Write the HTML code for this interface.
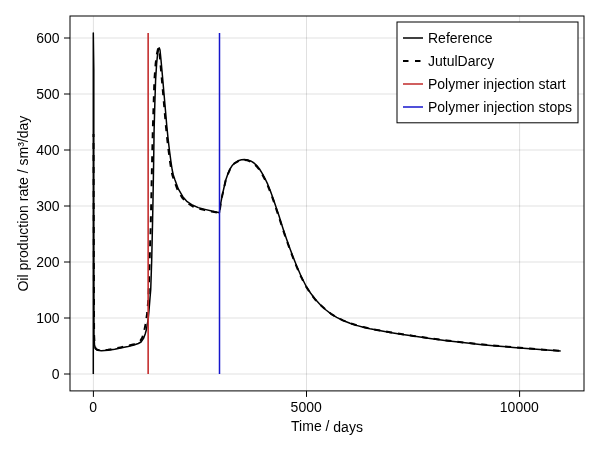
<!DOCTYPE html>
<html lang="en"><head><meta charset="utf-8"><title>Oil production rate</title>
<style>html,body{margin:0;padding:0;background:#fff}svg{display:block}text{font-family:'Liberation Sans','DejaVu Sans',sans-serif;font-size:14px;fill:#000}</style></head><body>
<svg width="600" height="450" viewBox="0 0 600 450">
<rect width="600" height="450" fill="#fff"/>
<g stroke="#000" stroke-opacity="0.12" stroke-width="1" fill="none">
<line x1="93.40" y1="16.0" x2="93.40" y2="390.9"/>
<line x1="306.50" y1="16.0" x2="306.50" y2="390.9"/>
<line x1="519.60" y1="16.0" x2="519.60" y2="390.9"/>
<line x1="70.0" y1="374.00" x2="584.0" y2="374.00"/>
<line x1="70.0" y1="318.00" x2="584.0" y2="318.00"/>
<line x1="70.0" y1="262.00" x2="584.0" y2="262.00"/>
<line x1="70.0" y1="206.00" x2="584.0" y2="206.00"/>
<line x1="70.0" y1="150.00" x2="584.0" y2="150.00"/>
<line x1="70.0" y1="94.00" x2="584.0" y2="94.00"/>
<line x1="70.0" y1="38.00" x2="584.0" y2="38.00"/>
</g>
<path d="M93.3,374.0 L93.3,33.0 L93.8,70.0 L93.8,200.0 L94.0,335.0 L94.5,345.0 L95.6,349.0 L97.5,350.3 L101.3,350.7 L108.0,350.2 L114.7,349.3 L120.5,348.0 L128.0,346.5 L134.0,345.0 L138.3,343.5 L141.0,342.0 L143.7,338.0 L145.2,334.0 L146.3,330.0 L147.4,324.0 L148.3,318.0 L149.2,308.0 L150.0,298.0 L150.7,290.0 L151.7,260.0 L152.6,220.0 L153.0,200.0 L153.6,165.0 L154.1,130.0 L154.8,105.0 L155.6,80.0 L156.6,64.0 L157.6,54.0 L158.5,49.0 L159.2,47.8 L160.0,50.0 L161.0,60.0 L162.0,71.0 L162.8,80.0 L164.2,96.0 L165.6,112.0 L166.7,125.0 L168.0,138.0 L169.4,150.0 L171.0,162.0 L172.2,170.0 L173.3,175.0 L175.0,180.0 L178.3,188.9 L182.8,196.7 L187.2,201.7 L192.8,205.3 L198.3,207.6 L205.0,209.4 L211.7,211.1 L219.4,212.8 L220.6,204.0 L222.2,195.6 L223.9,188.0 L225.6,180.5 L228.0,173.5 L230.0,169.0 L232.0,165.8 L234.4,163.2 L238.9,160.5 L241.5,159.8 L244.4,159.6 L247.5,159.9 L251.1,161.2 L254.0,163.0 L256.7,165.6 L259.5,169.0 L262.2,173.3 L265.0,178.5 L267.8,184.4 L270.5,191.3 L273.3,198.9 L276.0,207.0 L278.9,215.6 L283.3,229.5 L286.7,239.5 L290.0,248.7 L293.3,257.5 L296.7,266.0 L301.0,276.0 L306.0,286.0 L310.5,293.0 L315.3,299.3 L320.5,305.0 L326.0,310.0 L331.0,313.8 L336.7,317.3 L343.0,320.5 L350.0,323.3 L356.5,325.4 L363.3,327.3 L370.0,328.8 L376.7,330.1 L390.0,332.4 L401.0,334.2 L413.3,336.1 L430.0,338.5 L446.7,340.7 L463.0,342.6 L480.0,344.4 L496.0,345.9 L513.3,347.4 L530.0,348.7 L546.7,350.0 L560.7,351.0" fill="none" stroke="#000" stroke-width="1.5" stroke-linejoin="round"/>
<path d="M93.5,134.0 L93.8,250.0 L94.1,335.0 L94.6,344.5 L95.6,348.5 L97.5,349.8 L101.3,350.2 L108.0,349.7 L114.7,348.7 L120.5,347.4 L128.0,345.8 L134.0,344.2 L138.3,342.3 L140.5,340.5 L142.3,337.5 L144.0,332.0 L145.6,324.0 L147.2,313.0 L148.5,298.0 L149.6,262.0 L150.6,230.0 L151.3,200.0 L152.0,165.0 L152.8,130.0 L153.6,105.0 L154.4,80.0 L155.6,64.0 L156.9,54.0 L158.0,49.0 L158.9,48.2 L159.4,51.0 L160.1,60.0 L161.1,71.0 L161.9,80.0 L163.3,96.0 L164.7,112.0 L165.8,125.0 L167.1,138.0 L168.5,150.0 L170.1,162.0 L171.3,170.0 L172.4,175.3 L174.1,180.5 L177.5,189.6 L182.1,197.5 L186.7,202.6 L192.4,206.2 L198.0,208.4 L204.8,210.1 L211.6,211.6 L219.4,213.0 L220.6,204.3 L222.2,195.9 L223.9,188.3 L225.6,180.8 L228.0,173.8 L230.0,169.3 L232.0,166.0 L234.4,163.5 L238.9,160.8 L241.5,160.1 L244.2,159.9 L247.3,160.3 L250.9,161.7 L253.8,163.6 L256.5,166.2 L259.3,169.7 L262.0,174.0 L264.8,179.2 L267.6,185.2 L270.3,192.0 L273.1,199.6 L275.8,207.7 L278.7,216.3 L283.1,230.1 L286.5,240.0 L289.8,249.2 L293.1,258.0 L296.5,266.4 L300.8,276.3 L305.8,286.3 L310.3,293.2 L315.1,299.5 L320.5,305.1 L326.0,310.0 L331.0,313.8 L336.7,317.3 L343.0,320.4 L350.0,323.2 L356.5,325.3 L363.3,327.1 L370.0,328.6 L376.7,329.9 L390.0,332.2 L401.0,334.0 L413.3,335.9 L430.0,338.3 L446.7,340.5 L463.0,342.4 L480.0,344.2 L496.0,345.7 L513.3,347.2 L530.0,348.6 L546.7,349.9 L560.7,350.9" fill="none" stroke="#000" stroke-width="2" stroke-dasharray="6 6" stroke-dashoffset="3" stroke-linejoin="round"/>
<line x1="148.15" y1="374.0" x2="148.15" y2="33.0" stroke="#c42e2e" stroke-width="1.6"/>
<line x1="219.50" y1="374.0" x2="219.50" y2="33.0" stroke="#1616cc" stroke-width="1.5"/>
<rect x="70.0" y="16.0" width="514.0" height="374.9" fill="none" stroke="#000" stroke-width="1"/>
<g stroke="#000" stroke-width="1">
<line x1="93.40" y1="390.9" x2="93.40" y2="396.9"/>
<line x1="306.50" y1="390.9" x2="306.50" y2="396.9"/>
<line x1="519.60" y1="390.9" x2="519.60" y2="396.9"/>
<line x1="64.0" y1="374.00" x2="70.0" y2="374.00"/>
<line x1="64.0" y1="318.00" x2="70.0" y2="318.00"/>
<line x1="64.0" y1="262.00" x2="70.0" y2="262.00"/>
<line x1="64.0" y1="206.00" x2="70.0" y2="206.00"/>
<line x1="64.0" y1="150.00" x2="70.0" y2="150.00"/>
<line x1="64.0" y1="94.00" x2="70.0" y2="94.00"/>
<line x1="64.0" y1="38.00" x2="70.0" y2="38.00"/>
</g>
<text x="93.10" y="412.40" text-anchor="middle" transform="rotate(0.02 93.10 412.40)">0</text>
<text x="306.20" y="412.40" text-anchor="middle" transform="rotate(0.02 306.20 412.40)">5000</text>
<text x="519.30" y="412.40" text-anchor="middle" transform="rotate(0.02 519.30 412.40)">10000</text>
<text x="59.60" y="379.00" text-anchor="end" transform="rotate(0.02 59.60 379.00)">0</text>
<text x="59.60" y="323.00" text-anchor="end" transform="rotate(0.02 59.60 323.00)">100</text>
<text x="59.60" y="267.00" text-anchor="end" transform="rotate(0.02 59.60 267.00)">200</text>
<text x="59.60" y="211.00" text-anchor="end" transform="rotate(0.02 59.60 211.00)">300</text>
<text x="59.60" y="155.00" text-anchor="end" transform="rotate(0.02 59.60 155.00)">400</text>
<text x="59.60" y="99.00" text-anchor="end" transform="rotate(0.02 59.60 99.00)">500</text>
<text x="59.60" y="43.00" text-anchor="end" transform="rotate(0.02 59.60 43.00)">600</text>
<text x="327.00" y="431.50" text-anchor="middle" transform="rotate(0.02 327.00 431.50)">Time / days</text>
<text transform="translate(28.3,203.6) rotate(-89.98)" text-anchor="middle">Oil production rate / sm³/day</text>
<rect x="397" y="22" width="181" height="100.8" fill="#fff" stroke="#000" stroke-width="1"/>
<line x1="403" y1="38" x2="423" y2="38" stroke="#000" stroke-width="1.5"/>
<line x1="403" y1="61" x2="423" y2="61" stroke="#000" stroke-width="2" stroke-dasharray="5.5 6.5"/>
<line x1="403" y1="84" x2="423" y2="84" stroke="#c02a2a" stroke-width="1.5"/>
<line x1="403" y1="107" x2="423" y2="107" stroke="#1616cc" stroke-width="1.5"/>
<text x="428.00" y="42.70" transform="rotate(0.02 428.00 42.70)">Reference</text>
<text x="428.00" y="65.70" transform="rotate(0.02 428.00 65.70)">JutulDarcy</text>
<text x="428.00" y="88.70" transform="rotate(0.02 428.00 88.70)">Polymer injection start</text>
<text x="428.00" y="111.70" transform="rotate(0.02 428.00 111.70)">Polymer injection stops</text>
</svg></body></html>
